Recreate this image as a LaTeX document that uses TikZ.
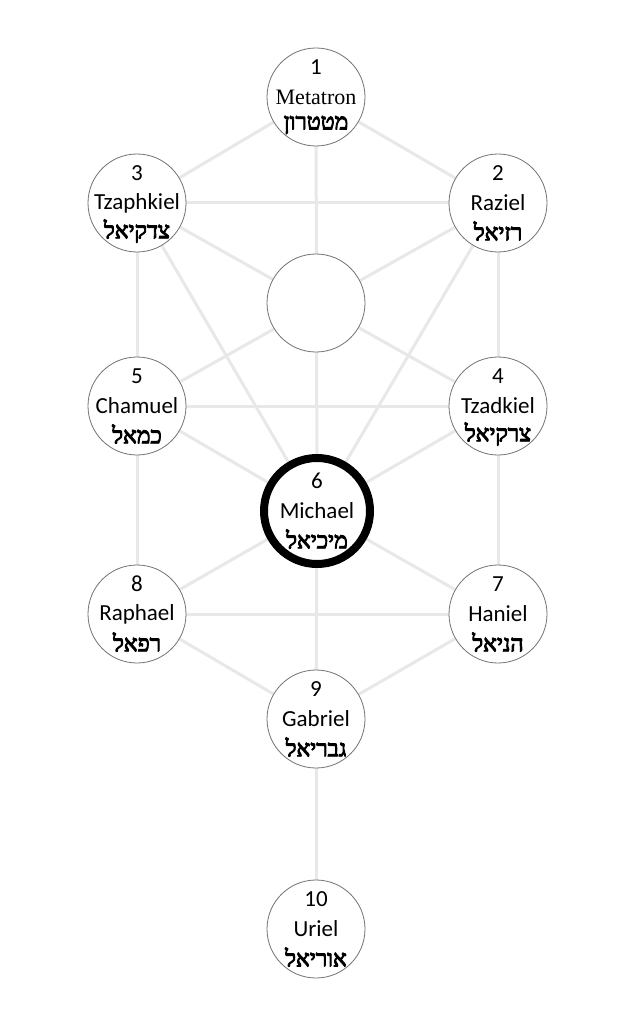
\documentclass[tikz,border=0pt]{standalone}
\usepackage{fontspec}
\setmainfont{Carlito}
\newfontfamily\hebfont[Script=Hebrew,FakeBold=4]{Liberation Serif}
\newfontfamily\serfont{Liberation Serif}
\TeXXeTstate=1
\usetikzlibrary{backgrounds}
\tikzset{
  sef/.style={circle, draw=black!55, line width=0.8pt, fill=white, minimum size=98pt, inner sep=0pt},
  cent/.style={sef, draw=black, line width=8pt, minimum size=106pt},
  lbl/.style={inner sep=0pt, font=\fontsize{23}{25}\selectfont},
  hlbl/.style={inner sep=0pt, font=\fontsize{23}{25}\selectfont\hebfont},
  pathline/.style={draw=black!9, line width=3pt},
}
\newcommand\mklabels[4]{%
  \node[lbl] (#1num) at ([yshift=30pt]#1.center) {#2};
  \node[lbl] (#1name) at (#1.center) {#3};
  \node[hlbl] (#1heb) at ([yshift=-28pt]#1.center) {\beginR #4\endR};
}
\begin{document}
\begin{tikzpicture}[x=1pt,y=-1pt]
\useasboundingbox (0,0) rectangle (633,1024);
\node[sef] (s1) at (316,97) {};
\node[sef] (s2) at (498,203) {};
\node[sef] (s3) at (137,203) {};
\node[sef] (da) at (316,303) {};
\node[sef] (s4) at (498,406) {};
\node[sef] (s5) at (137,406) {};
\node[cent] (s6) at (317,511) {};
\node[sef] (s7) at (498,614) {};
\node[sef] (s8) at (137,614) {};
\node[sef] (s9) at (316,719) {};
\node[sef] (s10) at (316,929) {};
\begin{pgfonlayer}{background}
\fill[white] (0,0) rectangle (633,1024);
\foreach \a/\b in {s1/s2,s1/s3,s1/s6,s2/s3,s2/s4,s2/s6,s3/s5,s3/s6,s2/s5,s3/s4,s4/s5,s4/s6,s4/s7,s5/s6,s5/s8,s6/s7,s6/s8,s6/s9,s7/s8,s7/s9,s8/s9,s9/s10}
  \path[pathline] (\a.center) -- (\b.center);
\end{pgfonlayer}
\node[lbl] (s1num) at ([yshift=30pt]s1.center) {1};
\node[lbl, font=\fontsize{22}{24}\selectfont\serfont] (s1name) at (s1.center) {Metatron};
\node[hlbl] (s1heb) at ([yshift=-28pt]s1.center) {\beginR מטטרון\endR};
\mklabels{s2}{2}{Raziel}{רזיאל}
\mklabels{s3}{3}{Tzaphkiel}{צדקיאל}
\mklabels{s4}{4}{Tzadkiel}{צרקיאל}
\mklabels{s5}{5}{Chamuel}{כמאל}
\mklabels{s6}{6}{Michael}{מיכיאל}
\mklabels{s7}{7}{Haniel}{הניאל}
\mklabels{s8}{8}{Raphael}{רפאל}
\mklabels{s9}{9}{Gabriel}{גבריאל}
\mklabels{s10}{10}{Uriel}{אוריאל}
\end{tikzpicture}
\end{document}
